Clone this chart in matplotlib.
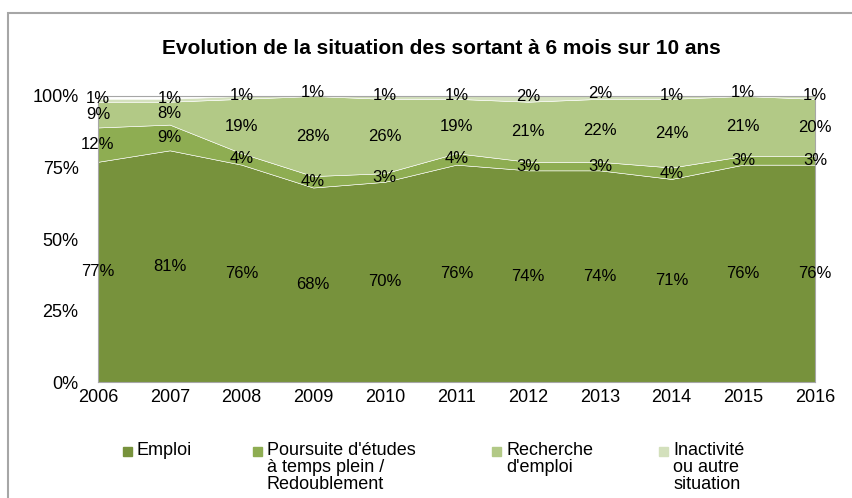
import matplotlib
matplotlib.use("Agg")
import matplotlib.pyplot as plt
from matplotlib.patches import Rectangle

plt.rcParams['font.family'] = ['Liberation Sans', 'DejaVu Sans']

years = [2006, 2007, 2008, 2009, 2010, 2011, 2012, 2013, 2014, 2015, 2016]
emploi = [77, 81, 76, 68, 70, 76, 74, 74, 71, 76, 76]
poursuite = [12, 9, 4, 4, 3, 4, 3, 3, 4, 3, 3]
recherche = [9, 8, 19, 28, 26, 19, 21, 22, 24, 21, 20]
inactivite = [1, 1, 1, 1, 1, 1, 2, 2, 1, 1, 1]

series = [emploi, poursuite, recherche, inactivite]
labels = ["Emploi", "Poursuite d'études\nà temps plein /\nRedoublement",
          "Recherche\nd'emploi", "Inactivité\nou autre\nsituation"]
colors = ["#77923C", "#8EAD52", "#B2C986", "#D3E0BC"]

W, H = 852, 498
fig = plt.figure(figsize=(W / 100, H / 100), dpi=100)
fig.patches.append(Rectangle((8 / W, -0.1), 1.0, 1 - 13 / H + 0.1,
                             transform=fig.transFigure, fill=False,
                             edgecolor="#A6A6A6", linewidth=1.5))
ax = fig.add_axes([98 / W, 1 - 382 / H, 717 / W, 286 / H])

ax.stackplot(years, *series, colors=colors, edgecolor="white", linewidth=0.4)

# data labels in the middle of each band (top band nudged up a bit)
base = [0] * len(years)
for k, s in enumerate(series):
    for i, x in enumerate(years):
        y = base[i] + s[i] / 2 + (0.8 if k == 3 else 0)
        ax.text(x, y, f"{s[i]}%", ha="center", va="center", fontsize=12)
    base = [b + v for b, v in zip(base, s)]

ax.set_xlim(2006, 2016)
ax.set_ylim(0, 100)
ax.set_xticks(years)
ax.set_yticks([0, 25, 50, 75, 100])
ax.set_yticklabels(["0%", "25%", "50%", "75%", "100%"])
ax.tick_params(axis="y", length=0, labelsize=13, pad=14)
ax.tick_params(axis="x", length=0, labelsize=13, pad=5)
for sp in ax.spines.values():
    sp.set_color("#A6A6A6")

fig.text(441 / W, 1 - 48 / H, "Evolution de la situation des sortant à 6 mois sur 10 ans",
         ha="center", va="center", fontsize=15, fontweight="bold")

# legend, squares aligned with the first line of text
leg_x = [128, 258, 497, 664]
for x, lab, c in zip(leg_x, labels, colors):
    fig.patches.append(Rectangle(((x - 5) / W, 1 - 456 / H), 9 / W, 9 / H,
                                 transform=fig.transFigure, color=c))
    fig.text((x + 9) / W, 1 - 442 / H, lab, ha="left", va="top",
             fontsize=13, linespacing=1.0)

fig.savefig("out.png", dpi=100)
